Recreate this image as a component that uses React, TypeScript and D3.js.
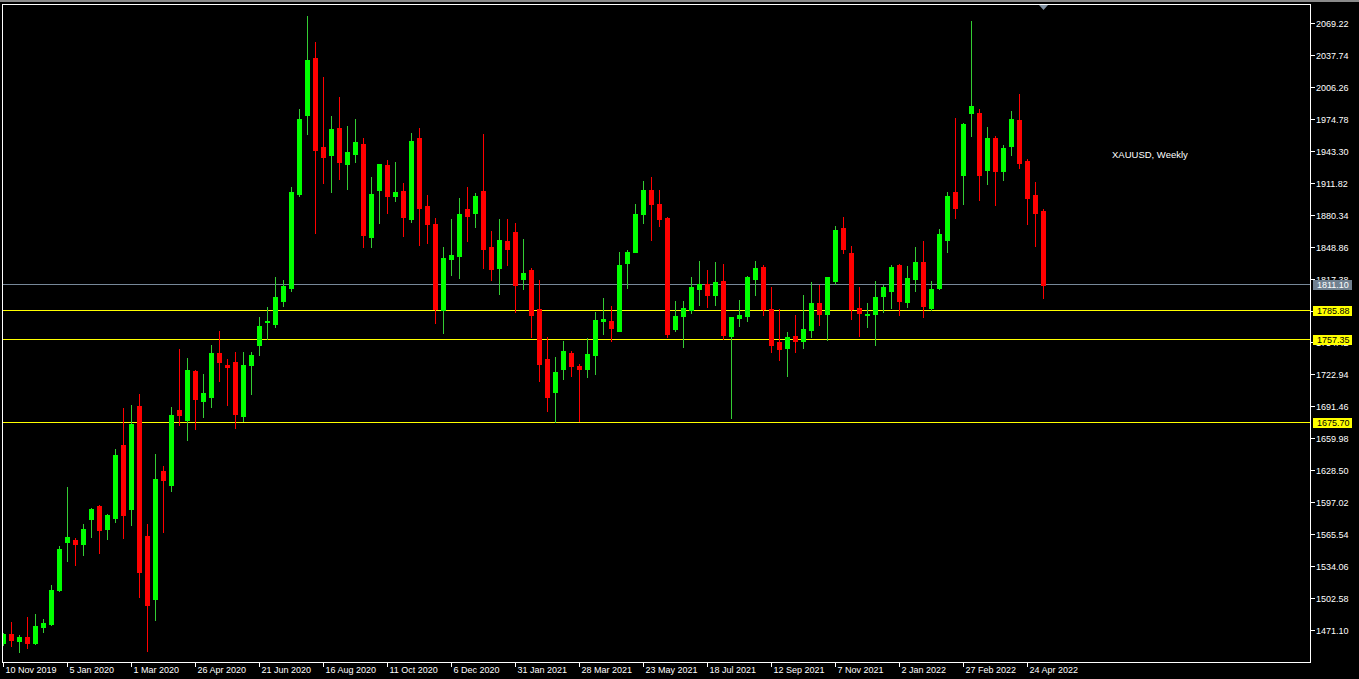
import React from "react";
import * as d3 from "d3";

const symbolTitle = "XAUUSD, Weekly";

const dateLabels = [
  "10 Nov 2019", "5 Jan 2020", "1 Mar 2020", "26 Apr 2020", "21 Jun 2020",
  "16 Aug 2020", "11 Oct 2020", "6 Dec 2020", "31 Jan 2021", "28 Mar 2021",
  "23 May 2021", "18 Jul 2021", "12 Sep 2021", "7 Nov 2021", "2 Jan 2022",
  "27 Feb 2022", "24 Apr 2022",
];
const dateLabelIndex = [0, 8, 16, 24, 32, 40, 48, 56, 64, 72, 80, 88, 96, 104, 112, 120, 128];

const priceTicks = [
  "2069.22", "2037.74", "2006.26", "1974.78", "1943.30", "1911.82", "1880.34",
  "1848.86", "1817.38", "1785.90", "1754.42", "1722.94", "1691.46", "1659.98",
  "1628.50", "1597.02", "1565.54", "1534.06", "1502.58", "1471.10",
];

const currentPrice = 1811.1;
const levelLines = [1785.88, 1757.35, 1675.7];

const open = [1458.9,1467.5,1460.9,1464.5,1458.6,1474.7,1477.3,1510.8,1558.1,1560.0,
1556.1,1580.7,1593.5,1570.9,1581.7,1653.5,1590.5,1691.9,1564.0,1501.9,
1627.9,1614.2,1688.0,1678.2,1726.4,1696.9,1700.8,1744.1,1732.3,1735.2,
1682.1,1732.3,1752.0,1774.6,1772.7,1795.3,1808.1,1900.6,1978.4,2034.5,
1946.9,1939.0,1965.6,1930.2,1940.0,1949.8,1858.3,1904.6,1929.2,1898.7,
1903.6,1876.0,1955.7,1888.8,1871.1,1786.4,1836.6,1839.6,1885.9,1881.9,
1903.6,1848.5,1827.8,1854.4,1863.2,1816.9,1825.8,1787.4,1738.2,1705.7,
1728.4,1744.1,1731.3,1728.4,1742.1,1775.6,1775.6,1765.8,1832.7,1843.6,
1880.9,1904.6,1890.8,1877.0,1767.7,1780.5,1786.4,1807.1,1812.0,1801.2,
1815.0,1760.9,1778.6,1780.5,1816.9,1828.8,1787.4,1754.9,1749.0,1760.9,
1755.9,1766.7,1793.3,1782.5,1815.0,1867.1,1842.5,1788.4,1781.5,1782.5,
1800.2,1805.2,1830.7,1794.3,1816.9,1833.7,1788.4,1808.1,1855.3,1902.6,
1919.3,1980.4,1980.4,1924.3,1955.7,1923.3,1947.9,1973.5,1933.1,1899.6,
1883.9];

const high = [1468.5,1479.3,1466.5,1484.2,1487.2,1482.3,1515.7,1554.1,1612.2,1562.0,
1575.8,1591.0,1594.5,1585.6,1649.6,1690.0,1692.9,1703.7,1575.8,1644.7,
1632.9,1691.0,1748.0,1739.2,1727.4,1723.4,1752.0,1765.8,1738.2,1745.1,
1745.1,1745.1,1779.5,1789.4,1818.9,1816.0,1907.5,1984.3,2075.8,2050.3,
2015.8,1977.4,1996.1,1967.6,1974.5,1955.7,1917.4,1930.5,1934.1,1932.1,
1911.5,1960.7,1965.6,1899.6,1877.0,1848.5,1876.0,1896.7,1907.5,1901.6,
1959.7,1864.2,1876.0,1876.0,1872.1,1856.3,1827.8,1816.0,1759.9,1740.2,
1755.9,1746.1,1733.3,1758.9,1784.5,1798.2,1790.4,1843.6,1845.5,1890.8,
1913.4,1917.4,1904.6,1878.0,1795.3,1795.3,1818.9,1834.7,1825.8,1833.7,
1831.7,1780.0,1796.3,1819.9,1834.7,1830.7,1809.1,1787.4,1764.8,1781.5,
1801.2,1814.0,1811.0,1819.2,1869.1,1878.0,1849.4,1809.1,1793.3,1815.0,
1811.0,1830.7,1831.7,1829.8,1848.5,1854.4,1815.0,1866.2,1902.6,1975.5,
1970.5,2071.0,1984.3,1966.6,1957.7,1948.9,1982.3,1999.1,1935.1,1912.4,
1885.9];

const low = [1456.7,1456.0,1450.1,1454.0,1457.9,1469.8,1476.4,1509.8,1539.4,1535.4,
1545.3,1563.0,1547.2,1561.0,1577.7,1562.0,1574.8,1503.9,1450.8,1481.3,
1567.9,1608.3,1673.2,1658.5,1669.3,1681.1,1691.0,1716.6,1692.9,1670.3,
1677.2,1703.7,1742.1,1757.9,1769.7,1790.4,1805.2,1898.7,1959.7,1862.2,
1911.5,1902.6,1915.4,1905.5,1932.1,1848.5,1848.5,1872.1,1881.9,1893.7,
1859.3,1873.1,1850.4,1852.4,1773.6,1763.8,1820.9,1817.9,1854.4,1868.1,
1827.8,1816.0,1802.2,1830.7,1784.5,1807.1,1759.9,1716.6,1687.0,1676.2,
1718.5,1721.5,1677.2,1720.5,1723.4,1762.8,1755.9,1765.5,1808.1,1843.3,
1872.1,1855.3,1869.1,1759.9,1765.8,1750.0,1783.5,1791.3,1789.4,1791.3,
1757.9,1680.1,1770.7,1775.6,1801.2,1781.5,1745.1,1737.2,1721.5,1745.1,
1749.0,1759.9,1771.7,1756.9,1812.0,1842.5,1777.6,1760.9,1769.7,1752.0,
1784.5,1788.4,1781.5,1789.4,1805.2,1779.5,1786.4,1807.1,1843.6,1877.0,
1890.8,1957.7,1894.7,1910.5,1889.8,1914.4,1939.0,1926.2,1871.1,1849.4,
1798.2];

const close = [1467.5,1461.9,1464.5,1458.9,1475.4,1478.3,1510.8,1551.2,1563.0,1556.1,
1570.9,1590.5,1569.9,1584.6,1643.7,1584.6,1674.2,1528.5,1496.0,1620.1,
1619.1,1683.1,1683.1,1727.4,1698.8,1704.7,1744.1,1735.2,1730.3,1684.1,
1732.3,1742.1,1770.7,1775.6,1799.2,1810.1,1902.6,1974.5,2032.5,1943.9,
1937.0,1964.6,1932.1,1942.0,1951.8,1860.3,1900.6,1930.2,1898.7,1902.6,
1878.0,1952.8,1886.8,1871.1,1787.4,1837.6,1840.6,1880.9,1879.0,1898.7,
1846.5,1826.8,1855.3,1846.5,1811.0,1822.9,1781.5,1733.3,1700.8,1725.4,
1746.1,1731.3,1728.4,1743.1,1776.6,1777.6,1768.7,1830.7,1843.6,1880.9,
1904.6,1890.8,1876.0,1762.8,1780.5,1788.4,1809.1,1812.0,1801.2,1814.0,
1761.8,1779.5,1781.5,1818.9,1827.8,1787.4,1752.0,1748.0,1759.9,1755.9,
1767.7,1793.3,1782.5,1818.9,1865.2,1846.5,1787.4,1783.5,1782.5,1799.2,
1809.1,1828.8,1795.3,1817.9,1833.7,1790.4,1807.1,1861.3,1898.7,1886.8,
1969.5,1987.3,1919.3,1955.7,1923.3,1945.9,1974.5,1931.2,1896.7,1881.9,
1811.1];

const W = 1359;
const H = 679;
const FL = 2.5, FR = 1310.5, FT = 4.5, FB = 662.5;
const FONT = "'Liberation Sans', Arial, sans-serif";

export default function App() {
  const n = open.length;
  const x = d3.scaleLinear().domain([0, 130]).range([3.5, 1043.5]);
  const y = d3.scaleLinear().domain([1471.1, 2069.22]).range([630.3, 22.7]);
  const ly = (v: number) => Math.floor(y(v)) + 0.5;

  const candles = d3.range(n).map((i) => {
    const o = open[i], c = close[i], h = high[i], l = low[i];
    const up = c >= o;
    const cx = x(i);
    const top = Math.round(y(Math.max(o, c)));
    const bot = Math.round(y(Math.min(o, c)));
    const wt = Math.round(y(h));
    const wb = Math.round(y(l));
    const body = up ? "#00ff00" : "#ff0000";
    const wick = up ? "#33cc33" : "#ff0000";
    return (
      <g key={i}>
        <rect x={Math.floor(cx)} y={wt} width={1} height={Math.max(1, wb - wt + 1)} fill={wick} />
        <rect x={Math.floor(cx) - 2} y={top} width={5} height={Math.max(1, bot - top + 1)} fill={body} />
      </g>
    );
  });

  const boxLabel = (v: number, fill: string, color: string, key: string) => {
    const yy = ly(v);
    return (
      <g key={key}>
        <rect x={1313} y={yy - 5} width={39} height={10} fill={fill} />
        <text x={1317} y={yy + 3.5} fontSize={9} fill={color} fontFamily={FONT}>
          {v.toFixed(2)}
        </text>
      </g>
    );
  };

  return (
    <svg
      width={W}
      height={H}
      style={{ position: "fixed", left: 0, top: 0, background: "#000", display: "block" }}
      shapeRendering="crispEdges"
    >
      <defs>
        <clipPath id="plot">
          <rect x={3} y={5} width={1307} height={657} />
        </clipPath>
      </defs>
      <rect x={0} y={0} width={W} height={H} fill="#000" />
      <rect x={0} y={0} width={W} height={1.5} fill="#8a8a8a" />

      <g clipPath="url(#plot)">
        <line x1={FL} x2={FR} y1={ly(currentPrice)} y2={ly(currentPrice)} stroke="#778899" strokeWidth={1} />
        {levelLines.map((v, i) => (
          <line key={i} x1={FL} x2={FR} y1={ly(v)} y2={ly(v)} stroke="#ffff00" strokeWidth={1} />
        ))}
        {candles}
      </g>

      <rect x={FL} y={FT} width={FR - FL} height={FB - FT} fill="none" stroke="#ffffff" strokeWidth={1} />

      <path
        d={`M${x(130) - 4.5},${FT + 0.5} L${x(130) + 4.5},${FT + 0.5} L${x(130)},${FT + 5.5} Z`}
        fill="#8090a0"
        shapeRendering="auto"
      />

      {priceTicks.map((t) => {
        const yy = Math.round(y(+t)) + 0.5;
        return (
          <g key={t}>
            <line x1={FR} x2={FR + 4} y1={yy} y2={yy} stroke="#fff" />
            <text x={1316} y={yy + 3.5} fontSize={9} fill="#fff" fontFamily={FONT}>
              {t}
            </text>
          </g>
        );
      })}

      {boxLabel(currentPrice, "#708090", "#ffffff", "cur")}
      {levelLines.map((v, i) => boxLabel(v, "#ffff00", "#000000", "lv" + i))}

      {dateLabels.map((d, i) => {
        const xx = Math.floor(x(dateLabelIndex[i])) + 0.5;
        return (
          <g key={d}>
            <line x1={xx} x2={xx} y1={FB} y2={FB + 4} stroke="#fff" />
            <text x={xx + 2} y={673} fontSize={9} fill="#fff" fontFamily={FONT}>
              {d}
            </text>
          </g>
        );
      })}

      <text x={1112} y={158} fontSize={9.5} fill="#fff" fontFamily={FONT}>
        {symbolTitle}
      </text>
    </svg>
  );
}
